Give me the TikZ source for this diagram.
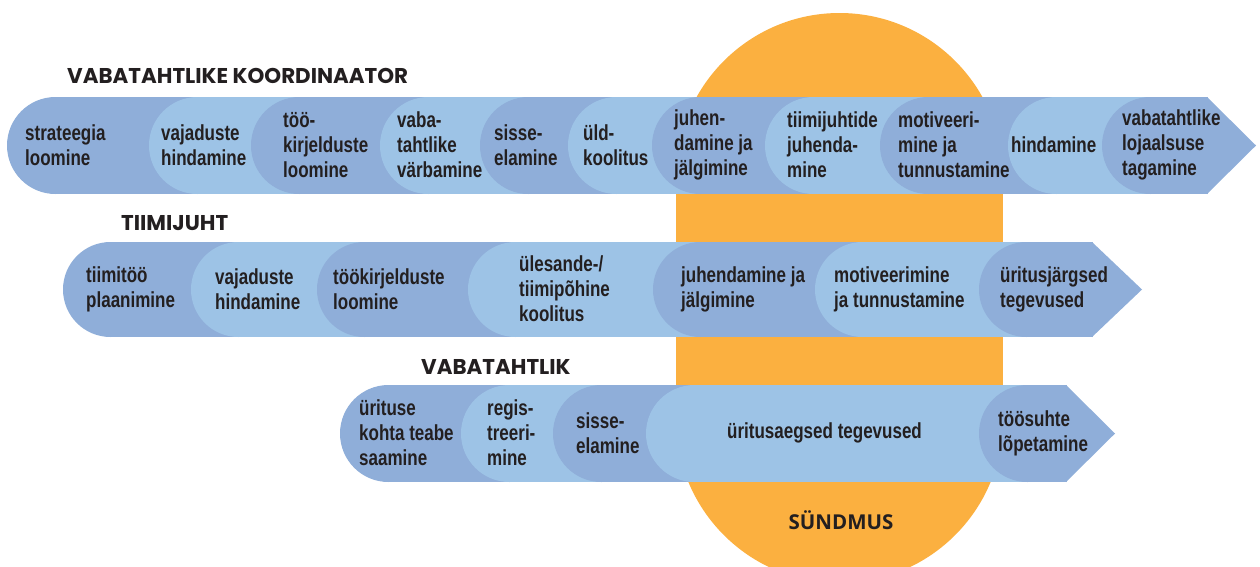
\documentclass[tikz,border=0pt]{standalone}
\usepackage{fontspec}
\setmainfont{Liberation Sans}[FakeStretch=0.78]
\newfontfamily\headfont{Poppins}
\newfontfamily\eventfont{Open Sans}
\usepackage{xcolor}
\definecolor{dk}{HTML}{8FAED9}
\definecolor{lt}{HTML}{9DC3E6}
\definecolor{sun}{HTML}{FBB040}
\definecolor{ink}{HTML}{231F20}

\begin{document}
\begin{tikzpicture}[x=1pt,y=-1pt,
	lbl/.style={anchor=west,align=left,text=ink,inner sep=0pt,
		font=\bfseries\fontsize{21.8}{25}\selectfont},
	head/.style={anchor=west,text=ink,inner sep=0pt,
		font=\headfont\bfseries\fontsize{21.4}{24}\selectfont}]
	\useasboundingbox (0,0) rectangle (1260,566);
	\clip (0,0) rectangle (1260,566);
	% sundmus
	\fill[sun] (839.5,176.5) circle (163.5pt);
	\fill[sun] (839.5,419.5) circle (163.5pt);
	\fill[sun] (676,176.5) rectangle (1003,419.5);
	\node[text=ink,font=\eventfont\bfseries\fontsize{20.5}{24}\selectfont] (sundmus) at (841,520) {SÜNDMUS};

	% koordinaator
	\foreach \x/\c in {7/dk,149/lt,251/dk,380/lt,480/dk,568/lt,652/dk,765/lt,880/dk,1008/lt,1102/dk}{
		\fill[\c] (\x+48.5,145.5) circle (48.5pt);
		\fill[\c] (\x+48.5,97) rectangle (1208,194);}
	\fill[dk] (1207,97) -- (1256,145.5) -- (1207,194) -- cycle;
	\node[head] (koord) at (67,76) {VABATAHTLIKE KOORDINAATOR};
	\foreach \x/\t [count=\i] in {25/{strateegia\\loomine},161/{vajaduste\\hindamine},
		283/{töö-\\kirjelduste\\loomine},397/{vaba-\\tahtlike\\värbamine},494/{sisse-\\elamine},
		583/{üld-\\koolitus},674/{juhen-\\damine ja\\jälgimine},787/{tiimijuhtide\\juhenda-\\mine},
		898/{motiveeri-\\mine ja\\tunnustamine},1011/{hindamine},1122/{vabatahtlike\\lojaalsuse\\tagamine}}
		\node[lbl] (k\i) at (\x,145) {\t};

	% tiimijuht
	\foreach \x/\c in {63/dk,191/lt,317/dk,468/lt,653/dk,815/lt,979/dk}{
		\fill[\c] (\x+47.5,289.5) circle (47.5pt);
		\fill[\c] (\x+47.5,242) rectangle (1093,337);}
	\fill[dk] (1092,242) -- (1142,289.5) -- (1092,337) -- cycle;
	\node[head] (tjuht) at (121,223) {TIIMIJUHT};
	\foreach \x/\t [count=\i] in {86/{tiimitöö\\plaanimine},215/{vajaduste\\hindamine},
		333/{töökirjelduste\\loomine},519/{ülesande-/\\tiimipõhine\\koolitus},
		681/{juhendamine ja\\jälgimine},834/{motiveerimine\\ja tunnustamine},1000/{üritusjärgsed\\tegevused}}
		\node[lbl] (t\i) at (\x,289) {\t};

	% vabatahtlik
	\foreach \x/\c in {340/dk,461/lt,553/dk,646/lt,979/dk}{
		\fill[\c] (\x+48.5,433.5) circle (48.5pt);
		\fill[\c] (\x+48.5,385) rectangle (1067,482);}
	\fill[dk] (1066,385) -- (1115,433.5) -- (1066,482) -- cycle;
	\node[head] (vab) at (421,367) {VABATAHTLIK};
	\foreach \x/\t [count=\i] in {359/{ürituse\\kohta teabe\\saamine},487/{regis-\\treeri-\\mine},
		576/{sisse-\\elamine},727/{üritusaegsed tegevused},998/{töösuhte\\lõpetamine}}
		\node[lbl] (v\i) at (\x,433) {\t};
\end{tikzpicture}
\end{document}
